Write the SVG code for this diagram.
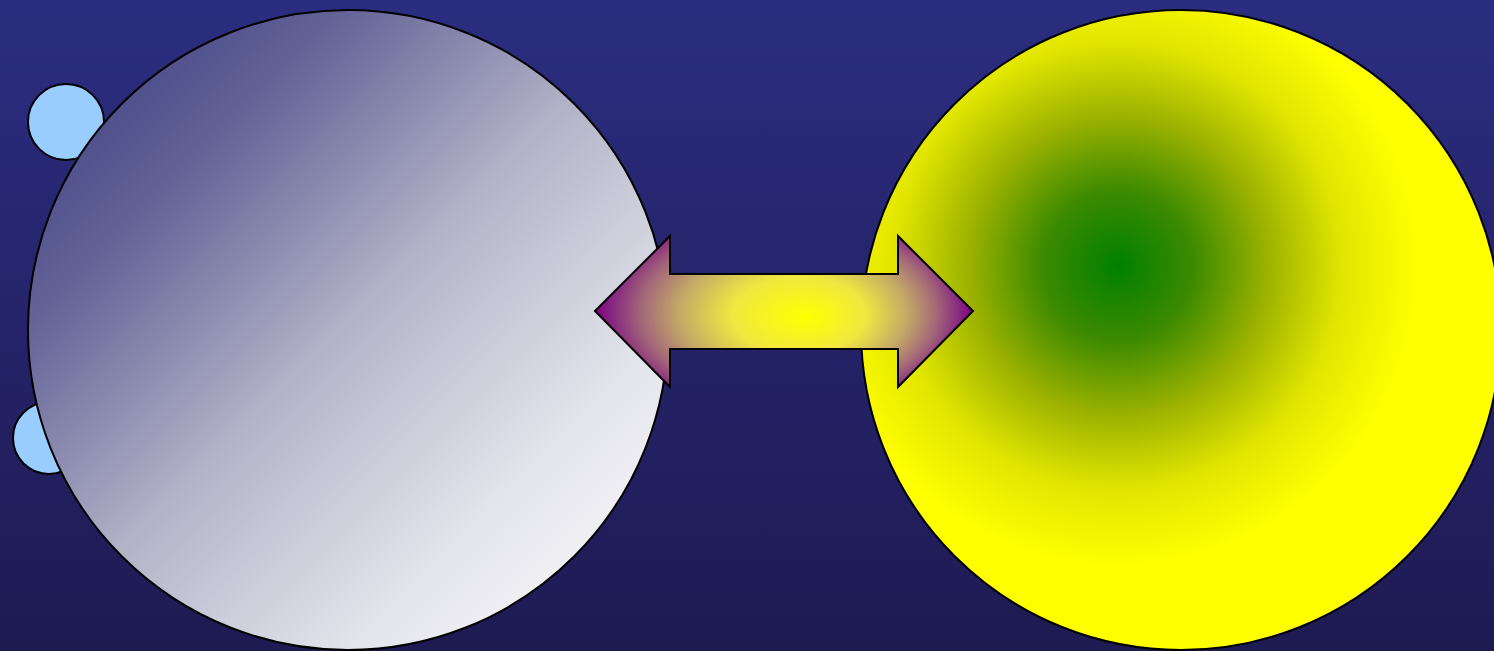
<svg xmlns="http://www.w3.org/2000/svg" width="1494" height="651" viewBox="0 0 1494 651">
<defs>
<linearGradient id="bg" x1="0" y1="0" x2="0" y2="1">
<stop offset="0" stop-color="#2b2d80"/>
<stop offset="1" stop-color="#1e1a52"/>
</linearGradient>
<linearGradient id="moon" x1="0" y1="0" x2="1" y2="1">
<stop offset="0" stop-color="#34347c"/>
<stop offset="0.25" stop-color="#646498"/>
<stop offset="0.5" stop-color="#b4b4c9"/>
<stop offset="0.75" stop-color="#e4e4ec"/>
<stop offset="1" stop-color="#ffffff"/>
</linearGradient>
<radialGradient id="sun" gradientUnits="userSpaceOnUse" cx="1118" cy="266" r="300">
<stop offset="0" stop-color="#008000"/>
<stop offset="0.25" stop-color="#3c8a00"/>
<stop offset="0.5" stop-color="#9cb200"/>
<stop offset="0.75" stop-color="#e2e600"/>
<stop offset="1" stop-color="#ffff00"/>
</radialGradient>
<radialGradient id="arr" gradientUnits="userSpaceOnUse" cx="0" cy="0" r="1" fx="0.12" fy="0.06" gradientTransform="translate(784 311) scale(189 110)">
<stop offset="0" stop-color="#ffff00"/>
<stop offset="0.35" stop-color="#f0e840"/>
<stop offset="0.6" stop-color="#c4aa66"/>
<stop offset="0.78" stop-color="#a46878"/>
<stop offset="0.92" stop-color="#862880"/>
<stop offset="1" stop-color="#800080"/>
</radialGradient>
<style>
.node{stroke:#000;stroke-width:2}
.small{fill:#99ccff}
</style>
</defs>
<rect x="0" y="0" width="1494" height="651" fill="url(#bg)"/>
<g id="small1"><circle class="node small" cx="66" cy="122" r="38"/></g>
<g id="small2"><circle class="node small" cx="49" cy="438" r="36"/></g>
<g id="moon-node"><circle class="node" cx="348" cy="330" r="320" fill="url(#moon)"/></g>
<g id="sun-node"><circle class="node" cx="1181" cy="330" r="320" fill="url(#sun)"/></g>
<g id="connectors">
<path class="node" d="M595,311 L670,236 L670,274 L898,274 L898,236 L973,311 L898,387 L898,349 L670,349 L670,387 Z" fill="url(#arr)"/>
</g>
</svg>
